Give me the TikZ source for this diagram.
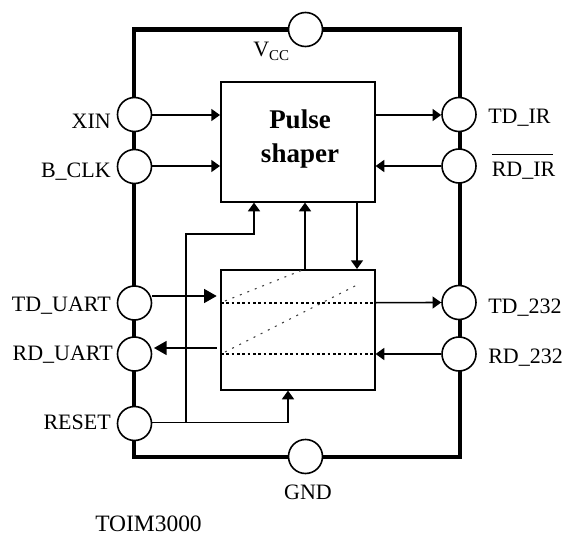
\documentclass[tikz,border=0pt]{standalone}
\usepackage{fontspec}
\setmainfont{Liberation Serif}
\usetikzlibrary{arrows.meta}
\tikzset{
  x=0.75pt,y=-0.75pt,
  pin/.style={circle,draw,line width=1.2pt,fill=white,minimum size=25.5pt,inner sep=0pt},
  box/.style={draw,line width=1.2pt,fill=white,anchor=north west,inner sep=0pt},
  lab/.style={font=\fontsize{16.5pt}{18pt}\selectfont,inner sep=0pt},
  sig/.style={line width=1.2pt,-{Triangle[length=6.5pt,width=9pt]}},
  bigsig/.style={line width=1.2pt,-{Triangle[length=9.5pt,width=10.5pt]}},
  dots/.style={line width=1.4pt,dash pattern=on 2pt off 2pt},
  fine/.style={line width=0.8pt,dash pattern=on 1.5pt off 4.5pt,black!75}
}
\begin{document}
\begin{tikzpicture}
\useasboundingbox (0,0) rectangle (564,535);
\coordinate (tl) at (134,29.5);\coordinate (tr) at (460,29.5);
\coordinate (br) at (460,457);\coordinate (bl) at (134,457);
\draw[line width=3.6pt,line join=miter] (tl) -- (tr) -- (br) -- (bl) -- cycle;
\node[pin] (vcc) at (305.5,29.5) {};
\node[pin] (gnd) at (305.5,456.5) {};
\node[pin] (xin) at (134.5,114.5) {};
\node[pin] (bclk) at (134.5,166.5) {};
\node[pin] (tdu) at (134.5,303) {};
\node[pin] (rdu) at (134.5,354) {};
\node[pin] (rst) at (134.5,423.5) {};
\node[pin] (tdir) at (459,114.5) {};
\node[pin] (rdir) at (459,166) {};
\node[pin] (td2) at (459,302.5) {};
\node[pin] (rd2) at (459,354) {};
\node[box,minimum width=115.5pt,minimum height=90pt] (ps) at (220,81) {};
\node[box,minimum width=115.5pt,minimum height=90pt] (sw) at (220,269) {};
\node[font=\fontsize{20.25pt}{25.5pt}\selectfont\bfseries,inner sep=0pt,anchor=base] (pst1) at (300,128) {Pulse};
\node[font=\fontsize{20.25pt}{25.5pt}\selectfont\bfseries,inner sep=0pt,anchor=base] (pst2) at (300,162) {shaper};
% labels
\node[lab,anchor=base west] (lvcc) at (253,57) {V\raisebox{-3pt}{\fontsize{11.25pt}{12pt}\selectfont CC}};
\node[lab,anchor=base east] (lxin) at (111,128) {XIN};
\node[lab,anchor=base east] (lbclk) at (111,177) {B\_CLK};
\node[lab,anchor=base east] (ltdu) at (111,311) {TD\_UART};
\node[lab,anchor=base east] (lrdu) at (113,360) {RD\_UART};
\node[lab,anchor=base east] (lrst) at (111,429) {RESET};
\node[lab,anchor=base west] (ltdir) at (488,123) {TD\_IR};
\node[lab,anchor=base west] (lrdir) at (491.5,176) {RD\_IR};
\node[lab,anchor=base west] (ltd2) at (488,313) {TD\_232};
\node[lab,anchor=base west] (lrd2) at (488,363) {RD\_232};
\node[lab,anchor=base] (lgnd) at (308,499) {GND};
\node[lab,font=\fontsize{17.6pt}{19pt}\selectfont,anchor=base east] (ltoim) at (202,531.5) {TOIM3000};
\coordinate (ovl) at (492,154.5);\coordinate (ovr) at (553,154.5);
\draw[line width=1.2pt] (ovl) -- (ovr);
% signals
\draw[sig] (xin.east |- 0,115) -- (ps.west |- 0,115);
\draw[sig] (bclk.east |- 0,166) -- (ps.west |- 0,166);
\draw[sig] (ps.east |- 0,115) -- (tdir.west |- 0,115);
\draw[sig] (rdir.west) -- (ps.east |- 0,166);
\draw[sig] (sw.east |- 0,302.7) -- (td2.west);
\draw[sig] (rd2.west) -- (sw.east |- 0,354);
\coordinate (tduin) at (216.7,296);
\coordinate (rduout) at (216.7,348);
\coordinate (rdutip) at (154,348);
\draw[bigsig] (tdu.east |- tduin) -- (tduin);
\draw[bigsig] (rduout) -- (rdutip);
\draw[sig] (305,269) -- (305,0 |- ps.south);
\draw[sig] (357,0 |- ps.south) -- (357,0 |- sw.north);
\draw[sig] (rst.east |- 0,422.5) -- (288,422.5) -- (288,0 |- sw.south);
\draw[sig] (186,422.5) -- (186,234) -- (254,234) -- (254,0 |- ps.south);
% dotted
\draw[dots] (221,302.7) -- (374,302.7);
\draw[dots] (221,354) -- (374,354);
\draw[fine] (225,301) -- (305,269);
\draw[fine] (225,352) -- (357,285);
\end{tikzpicture}
\end{document}
